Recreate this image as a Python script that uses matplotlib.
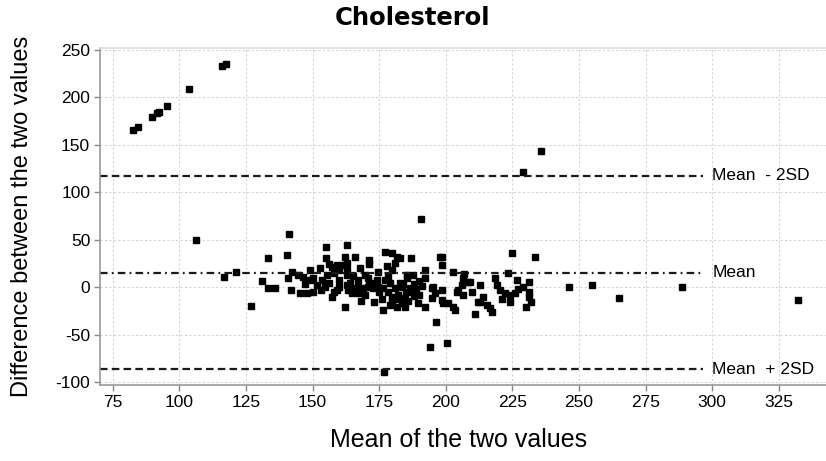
import matplotlib
matplotlib.use('Agg')
import matplotlib.pyplot as plt

# Bland-Altman style data
mean_vals = [82.5, 84.6, 89.6, 91.5, 92.4, 95.3, 103.7, 116.1, 117.5, 106.1,
             116.8, 121.3, 126.8, 131.1, 133.4, 135.9, 133.4, 140.5, 141.3, 141.8,
             142.2, 144.6, 146.5, 140.9, 149.0, 145.3, 147.8, 150.3, 151.5, 153.4,
             155.3, 152.8, 157.2, 159.1, 161.0, 162.8, 154.7, 157.2, 160.0, 160.0,
             162.2, 162.8, 162.8, 163.4, 155.0, 155.0, 162.2, 162.8, 165.9, 171.2,
             177.2, 179.7, 181.6, 182.8, 181.0, 187.0, 197.8, 162.8, 167.8, 169.7,
             170.9, 174.7, 178.4, 179.1, 185.3, 187.8, 185.3, 192.2, 192.2, 195.3,
             198.4, 165.3, 167.2, 169.0, 170.9, 172.8, 174.7, 176.6, 164.7, 167.2,
             169.7, 176.6, 179.1, 181.6, 183.4, 184.7, 179.7, 182.2, 184.7, 178.4,
             180.9, 183.4, 186.6, 187.2, 189.7, 192.2, 194.7, 196.0, 196.2, 198.4,
             199.0, 190.6, 194.1, 200.6, 176.8, 198.4, 198.4, 202.8, 206.6, 209.1,
             206.0, 204.7, 206.6, 204.1, 200.9, 202.8, 203.4, 212.2, 211.0, 215.3,
             216.6, 217.2, 218.4, 219.1, 220.3, 222.2, 224.1, 226.0, 224.7, 223.4,
             226.6, 224.1, 231.3, 231.3, 231.3, 230.1, 233.5, 229.1, 235.6, 246.3,
             255.0, 265.0, 288.5, 332.3, 208.5, 212.9,
             147.0, 149.0, 156.0, 158.0, 150.0, 153.0, 158.0, 156.0, 160.0,
             172.0, 175.0, 177.0, 180.0, 183.0, 185.0, 188.0, 190.0, 176.0, 180.0,
             186.0, 190.0, 173.0, 171.0, 178.0, 189.0, 167.0, 165.0, 168.0,
             214.0, 213.0, 210.0, 227.0, 229.0, 232.0, 221.0, 207.0,
             159.0, 164.0, 166.0, 171.0, 174.0, 182.0, 184.0, 188.0, 191.0, 195.0]
diff_vals = [165.6, 169.0, 178.9, 183.2, 184.8, 190.8, 208.7, 233.0, 234.7, 49.8,
             10.9, 16.4, -19.4, 6.6, -1.1, -1.1, 30.5, 34.0, 56.1, -2.8,
             16.4, 12.9, 11.2, 10.1, 18.2, -6.3, -6.3, -4.6, 2.4, 7.7,
             12.9, 20.0, 21.7, 23.5, 23.5, 25.3, 0.6, -9.9, 7.7, 0.6,
             -20.4, 12.9, 2.4, -2.8, 42.1, 30.5, 32.2, 44.5, 32.2, 28.7,
             37.5, 35.8, 32.2, 30.5, 25.3, 30.5, 32.2, 18.2, 20.0, 12.9,
             9.5, 16.4, 11.2, 4.2, 12.9, 12.9, 9.5, 18.2, 9.5, 0.6,
             -2.8, -1.0, 0.0, -1.0, 0.0, -1.0, 0.0, -1.0, -6.3, -6.3,
             -8.1, -23.9, -18.6, -20.4, -16.8, -20.4, -9.9, -8.1, -11.6, -4.6,
             -1.0, 0.6, -1.0, -4.6, -16.8, -20.4, -1.0, -6.3, -36.8, -13.4,
             -16.8, 71.9, -62.5, -59.0, -88.8, 32.2, 23.5, 16.4, 9.5, 5.9,
             2.4, -2.8, -8.1, -4.6, -16.8, -20.4, -23.9, -15.2, -28.4, -18.6,
             -22.1, -25.7, 9.5, 2.4, -2.8, -6.3, -8.1, -6.3, 35.8, 14.7,
             7.7, -15.2, 5.9, -4.6, -9.9, -20.4, 32.2, 121.0, 143.5, 0.6,
             2.4, -11.6, 0.6, -13.4, 5.9, -15.2,
             3.0, 8.0, 5.0, 15.0, 10.0, -3.0, -5.0, 25.0, 18.0,
             5.0, -5.0, 8.0, 18.0, 5.0, -5.0, 3.0, 7.0, -12.0, -14.0,
             -14.0, -8.0, -15.0, 25.0, 22.0, -2.0, 8.0, 12.0, -14.0,
             -10.0, 2.0, -5.0, -2.0, 0.0, -15.0, -12.0, 14.0,
             -3.0, 4.0, -3.0, 4.0, 8.0, -12.0, 3.0, -9.0, 1.0, -11.0]

mean_diff = 15.5
upper_lim = 117.5
lower_lim = -86.5

xticks = [75, 100, 125, 150, 175, 200, 225, 250, 275, 300, 325]
yticks = [-100, -50, 0, 50, 100, 150, 200, 250]

plt.rcParams['font.family'] = ['Liberation Sans', 'DejaVu Sans']
plt.rcParams['axes.unicode_minus'] = False

fig = plt.figure(figsize=(8.26, 4.61), dpi=100)
ax = fig.add_axes([0.121, 0.165, 0.879, 0.731])

ax.grid(True, color='#d4d4d4', linestyle=(0, (2, 2)), linewidth=0.8)
ax.set_axisbelow(True)

ax.plot(mean_vals, diff_vals, 's', color='black', markersize=4.6, linestyle='none')

x0, x1 = 70.2, 296.5
ax.plot([x0, x1], [upper_lim, upper_lim], color='#1a1a1a', lw=1.6, linestyle=(0, (3.4, 1.9)))
ax.plot([x0, x1], [lower_lim, lower_lim], color='#1a1a1a', lw=1.6, linestyle=(0, (3.4, 1.9)))
ax.plot([x0, x1], [mean_diff, mean_diff], color='#1a1a1a', lw=1.6, linestyle=(0, (3.4, 1.9, 0.8, 1.9)))

ax.text(300, upper_lim, 'Mean  - 2SD', va='center', ha='left', fontsize=12.5)
ax.text(300, mean_diff, 'Mean', va='center', ha='left', fontsize=12.5)
ax.text(300, lower_lim, 'Mean  + 2SD', va='center', ha='left', fontsize=12.5)

ax.set_xlim(70.2, 342.7)
ax.set_ylim(-102.8, 251.9)
ax.set_xticks(xticks)
ax.set_yticks(yticks)
ax.tick_params(axis='both', labelsize=12.5, color='#888888', length=4, width=1, direction='out')
ax.tick_params(axis='y', pad=3)

for side in ['left', 'bottom', 'top']:
    ax.spines[side].set_color('#999999')
    ax.spines[side].set_linewidth(1.2)
ax.spines['top'].set_color('#dddddd')
ax.spines['right'].set_visible(False)

fig.text(0.5, 1 - 18 / 461, 'Cholesterol', ha='center', va='center',
         fontsize=17.5, fontweight='bold', family='DejaVu Sans')
fig.text(459 / 826, 1 - 440 / 461, 'Mean of the two values', ha='center', va='center',
         fontsize=18)
fig.text(22 / 826, 1 - 216 / 461, 'Difference between the two values', ha='center',
         va='center', rotation=90, fontsize=17)

fig.savefig('out.png', dpi=100)
